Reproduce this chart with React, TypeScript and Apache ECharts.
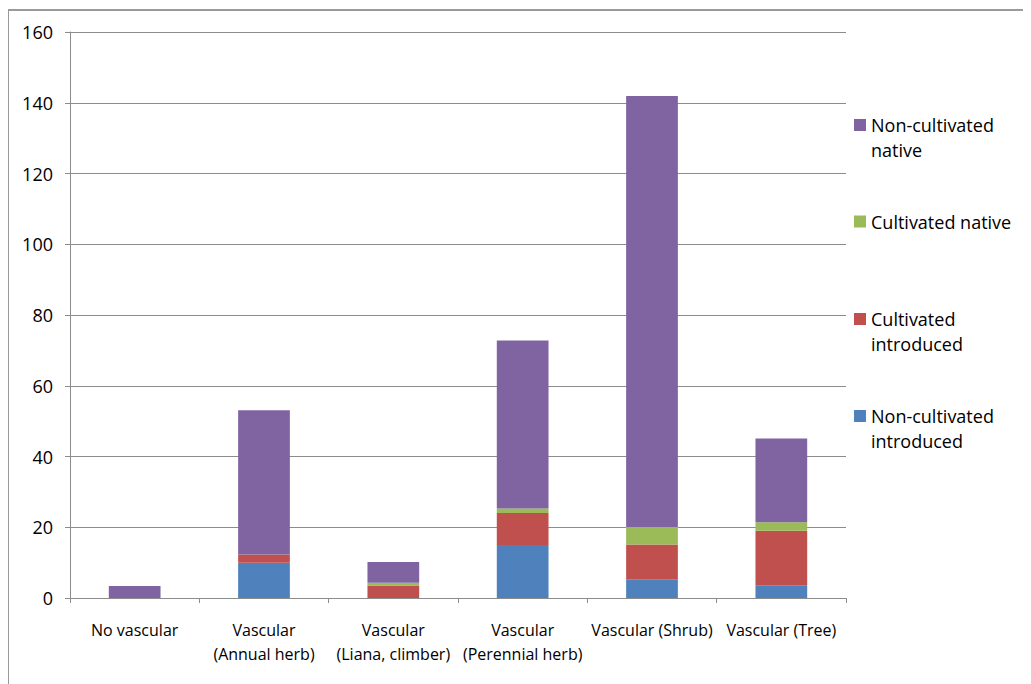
import React, { useEffect, useRef } from "react";
import * as echarts from "echarts";

// Growth-form categories and stacked counts per group
const categories = [
  "No vascular",
  "Vascular\n(Annual herb)",
  "Vascular\n(Liana, climber)",
  "Vascular\n(Perennial herb)",
  "Vascular (Shrub)",
  "Vascular (Tree)",
];

const nonCultivatedIntroduced = [0, 10, 0, 15, 5.3, 3.6];
const cultivatedIntroduced = [0, 2.3, 3.5, 9, 9.8, 15.4];
const cultivatedNative = [0, 0, 0.8, 1.3, 5, 2.4];
const nonCultivatedNative = [3.4, 40.8, 5.9, 47.5, 121.8, 23.7];

const yTicks = { min: 0, max: 160, interval: 20 };

const FONT = "'Open Sans', sans-serif";
const GRID_GRAY = "#8c8c8c";

// Two-line legend labels start with an empty line so the swatch sits beside the first line
const seriesDefs = [
  { name: "Non-cultivated introduced", label: "\nNon-cultivated\nintroduced", color: "#4F81BD", data: nonCultivatedIntroduced, legendTop: 370.5 },
  { name: "Cultivated introduced", label: "\nCultivated\nintroduced", color: "#C0504D", data: cultivatedIntroduced, legendTop: 273.5 },
  { name: "Cultivated native", label: "Cultivated native", color: "#9BBB59", data: cultivatedNative, legendTop: 201 },
  { name: "Non-cultivated native", label: "\nNon-cultivated\nnative", color: "#8064A2", data: nonCultivatedNative, legendTop: 79.5 },
];

export default function App() {
  const ref = useRef<HTMLDivElement>(null);

  useEffect(() => {
    if (!ref.current) return;
    const chart = echarts.init(ref.current, null, { renderer: "svg" });

    const legends = seriesDefs.map((s) => ({
      data: [s.name],
      left: 846,
      top: s.legendTop,
      orient: "vertical" as const,
      padding: 0,
      itemGap: 0,
      itemWidth: 12,
      itemHeight: 12,
      icon: "rect",
      selectedMode: false,
      formatter: () => s.label,
      textStyle: {
        fontFamily: FONT,
        fontSize: 18,
        color: "#000",
        lineHeight: 25,
      },
    }));

    chart.setOption({
      animation: false,
      backgroundColor: "#fff",
      textStyle: { fontFamily: FONT },
      grid: { left: 62, right: 185, top: 24, bottom: 86, containLabel: false },
      legend: legends,
      graphic: [
        { type: "line", shape: { x1: 0, y1: 2, x2: 1023, y2: 2 }, style: { stroke: "#9a9a9a", lineWidth: 2 } },
        { type: "line", shape: { x1: 0, y1: 1, x2: 0, y2: 676 }, style: { stroke: "#9a9a9a", lineWidth: 2 } },
      ],
      xAxis: {
        type: "category",
        data: categories,
        boundaryGap: true,
        axisLine: { show: true, lineStyle: { color: GRID_GRAY, width: 1 } },
        axisTick: { show: true, interval: 0, length: 5, lineStyle: { color: GRID_GRAY } },
        axisLabel: {
          interval: 0,
          margin: 20,
          fontFamily: FONT,
          fontSize: 16,
          lineHeight: 24,
          color: "#000",
        },
      },
      yAxis: {
        type: "value",
        min: yTicks.min,
        max: yTicks.max,
        interval: yTicks.interval,
        axisLine: { show: true, lineStyle: { color: GRID_GRAY, width: 1 } },
        axisTick: { show: true, length: 5, lineStyle: { color: GRID_GRAY } },
        splitLine: { show: true, lineStyle: { color: GRID_GRAY, width: 1 } },
        axisLabel: { margin: 17, fontFamily: FONT, fontSize: 18, color: "#000" },
      },
      series: seriesDefs.map((s) => ({
        name: s.name,
        type: "bar",
        stack: "total",
        barWidth: "40%",
        data: s.data,
        itemStyle: { color: s.color },
      })),
    });

    return () => chart.dispose();
  }, []);

  return <div ref={ref} style={{ width: 1023, height: 676 }} />;
}
